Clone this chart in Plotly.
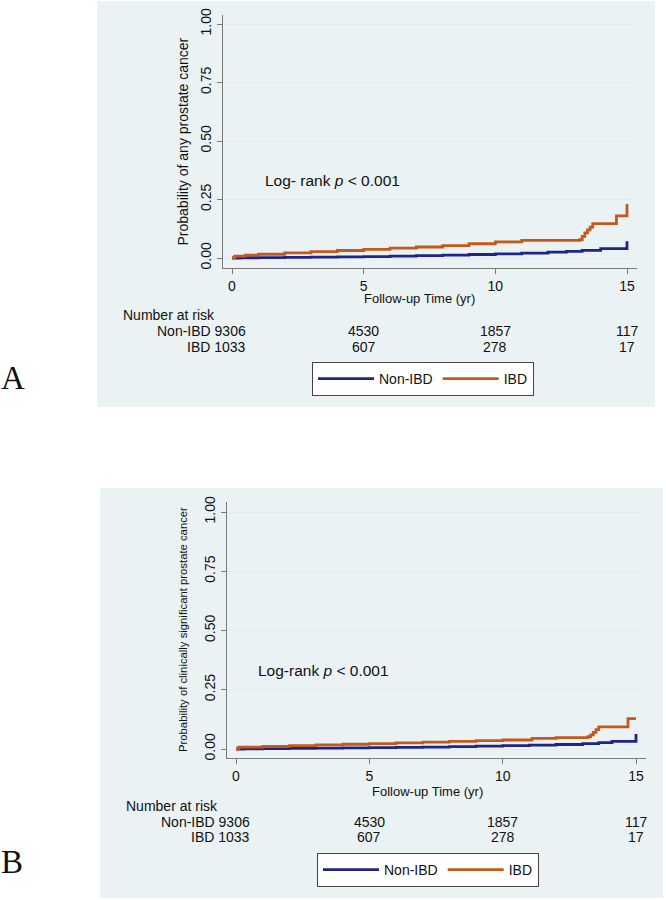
import plotly.graph_objects as go

# ---------------- data ----------------
# Panel A: any prostate cancer (cumulative probability)
a_non_t = [0, 0.3, 1, 2, 3, 4, 5, 6, 7, 8, 9, 10, 11, 12, 12.7, 13.3, 14.0, 15.0]
a_non_p = [0, 0.001, 0.002, 0.003, 0.004, 0.005, 0.006, 0.008, 0.010, 0.012, 0.015, 0.018,
           0.021, 0.025, 0.028, 0.033, 0.040, 0.072]
a_ibd_t = [0, 0.1, 0.5, 1, 2, 3, 4, 5, 6, 7, 8, 9, 10, 11, 13.2, 13.3, 13.4, 13.5, 13.6, 13.7, 14.6, 15.0]
a_ibd_p = [0, 0.008, 0.012, 0.016, 0.022, 0.027, 0.032, 0.037, 0.042, 0.047, 0.053, 0.061, 0.069,
           0.075, 0.078, 0.092, 0.107, 0.120, 0.132, 0.147, 0.180, 0.231]

# Panel B: clinically significant prostate cancer
b_non_t = [0, 0.3, 1, 2, 3, 4, 5, 6, 7, 8, 9, 10, 11, 12, 13, 13.6, 14.1, 15.0]
b_non_p = [0, 0.001, 0.002, 0.003, 0.004, 0.005, 0.006, 0.007, 0.008, 0.010, 0.012, 0.014,
           0.016, 0.019, 0.023, 0.027, 0.032, 0.063]
b_ibd_t = [0, 0.1, 1, 2, 3, 4, 5, 6, 7, 8, 9, 10, 11.1, 12, 13.2, 13.3, 13.4, 13.5, 13.6, 14.7, 15.0]
b_ibd_p = [0, 0.008, 0.011, 0.014, 0.017, 0.020, 0.023, 0.026, 0.029, 0.032, 0.035, 0.038, 0.045,
           0.048, 0.052, 0.060, 0.070, 0.082, 0.093, 0.128, 0.128]

risk_times = [0, 5, 10, 15]
risk_non_ibd = [9306, 4530, 1857, 117]
risk_ibd = [1033, 607, 278, 17]

x_ticks = [0, 5, 10, 15]
y_ticks = [0, 0.25, 0.5, 0.75, 1.0]
y_ticklabels = ["0.00", "0.25", "0.50", "0.75", "1.00"]

series_names = ["Non-IBD", "IBD"]
y_titles = ["Probability of any prostate cancer",
            "Probability of clinically significant prostate cancer"]
panel_letters = ["A", "B"]
logrank_texts = ["Log- rank <i>p</i> < 0.001", "Log-rank <i>p</i> < 0.001"]

# ---------------- styling ----------------
W, H = 666, 900
BLUE = "#1f2586"
ORANGE = "#c5591b"
BG = "#eaf2f4"
GRID = "#e2ebee"
AXC = "#7a7a7a"
FONT = "Liberation Sans, Arial, sans-serif"


def px_x(v):
    return v / W


def px_y(v):
    return 1 - v / H


fig = go.Figure()

fig.add_trace(go.Scatter(x=a_non_t, y=a_non_p, mode="lines", line=dict(color=BLUE, width=2.8, shape="hv"),
                         name=series_names[0], xaxis="x", yaxis="y", legend="legend"))
fig.add_trace(go.Scatter(x=a_ibd_t, y=a_ibd_p, mode="lines", line=dict(color=ORANGE, width=2.8, shape="hv"),
                         name=series_names[1], xaxis="x", yaxis="y", legend="legend"))
fig.add_trace(go.Scatter(x=b_non_t, y=b_non_p, mode="lines", line=dict(color=BLUE, width=2.8, shape="hv"),
                         name=series_names[0], xaxis="x2", yaxis="y2", legend="legend2"))
fig.add_trace(go.Scatter(x=b_ibd_t, y=b_ibd_p, mode="lines", line=dict(color=ORANGE, width=2.8, shape="hv"),
                         name=series_names[1], xaxis="x2", yaxis="y2", legend="legend2"))

panels = [
    dict(bg=(97, 1, 655, 407), plot=(223, 15, 637, 268), x0=232, x15=627, y0=258, y1=24,
         nar_title=(121, 315), rows=(331, 347), xt=(419, 298), yt=(182, 13.9), letter=(13, 378),
         logrank=(263, 180), legend=(312, 362), ytsize=14),
    dict(bg=(100, 488, 663, 898), plot=(227, 502, 646, 758), x0=236, x15=636, y0=749, y1=512,
         nar_title=(124, 806), rows=(822, 837), xt=(427, 791), yt=(183, 11.3), letter=(12, 862),
         logrank=(256, 670), legend=(317, 853), ytsize=11.3),
]

shapes = []
annotations = []
layout_axes = {}
for i, p in enumerate(panels):
    sfx = "" if i == 0 else "2"
    L, T, R, B = p["plot"]
    ux = (p["x15"] - p["x0"]) / 15.0
    uy = (p["y0"] - p["y1"])
    xr = [(L - p["x0"]) / ux, (R - p["x0"]) / ux]
    yr = [(p["y0"] - B) / uy, (p["y0"] - T) / uy]

    bx0, by0, bx1, by1 = p["bg"]
    shapes.append(dict(type="rect", xref="paper", yref="paper", x0=px_x(bx0), x1=px_x(bx1),
                       y0=px_y(by1), y1=px_y(by0), fillcolor=BG, line=dict(width=0), layer="below"))

    layout_axes["xaxis" + sfx] = dict(
        domain=[px_x(L), px_x(R)], range=xr, anchor="y" + sfx,
        tickvals=x_ticks, ticks="outside", ticklen=5, tickcolor=AXC, tickwidth=1,
        showline=True, linecolor=AXC, linewidth=1, showgrid=False, zeroline=False,
        tickfont=dict(family=FONT, size=14, color="#111"),
    )
    layout_axes["yaxis" + sfx] = dict(
        domain=[px_y(B), px_y(T)], range=yr, anchor="x" + sfx,
        tickvals=y_ticks, ticktext=y_ticklabels, tickangle=-90,
        ticks="outside", ticklen=5, tickcolor=AXC, tickwidth=1,
        showline=True, linecolor=AXC, linewidth=1, showgrid=True, gridcolor=GRID, gridwidth=1,
        zeroline=False, tickfont=dict(family=FONT, size=14, color="#111"),
    )

    annotations.append(dict(text="Follow-up Time (yr)", xref="paper", yref="paper",
                            x=px_x(p["xt"][0]), y=px_y(p["xt"][1]), xanchor="center", yanchor="middle",
                            showarrow=False, font=dict(family=FONT, size=13, color="#111")))
    annotations.append(dict(text=y_titles[i], xref="paper", yref="paper", textangle=-90,
                            x=px_x(p["yt"][0]), y=px_y((T + B) / 2), xanchor="center", yanchor="middle",
                            showarrow=False, font=dict(family=FONT, size=p["ytsize"], color="#111")))
    lx = (p["logrank"][0] - p["x0"]) / ux
    ly = (p["y0"] - p["logrank"][1]) / uy
    annotations.append(dict(text=logrank_texts[i], xref="x" + sfx, yref="y" + sfx, x=lx, y=ly,
                            xanchor="left", yanchor="middle", showarrow=False,
                            font=dict(family=FONT, size=15.5, color="#111")))
    annotations.append(dict(text="Number at risk", xref="paper", yref="paper",
                            x=px_x(p["nar_title"][0]), y=px_y(p["nar_title"][1]),
                            xanchor="left", yanchor="middle", showarrow=False,
                            font=dict(family=FONT, size=14, color="#111")))
    for row_y, lab, vals in [(p["rows"][0], series_names[0], risk_non_ibd),
                             (p["rows"][1], series_names[1], risk_ibd)]:
        for j, (t, n) in enumerate(zip(risk_times, vals)):
            if j == 0:
                annotations.append(dict(text=f"{lab} {n}", xref="x" + sfx, yref="paper",
                                        x=t, y=px_y(row_y), xanchor="right", xshift=15.5,
                                        yanchor="middle", showarrow=False,
                                        font=dict(family=FONT, size=14, color="#111")))
            else:
                annotations.append(dict(text=str(n), xref="x" + sfx, yref="paper",
                                        x=t, y=px_y(row_y), xanchor="center",
                                        yanchor="middle", showarrow=False,
                                        font=dict(family=FONT, size=14, color="#111")))
    annotations.append(dict(text=panel_letters[i], xref="paper", yref="paper",
                            x=px_x(p["letter"][0]), y=px_y(p["letter"][1]),
                            xanchor="center", yanchor="middle", showarrow=False,
                            font=dict(family="Liberation Serif, Times New Roman, serif", size=33, color="#111")))

legend_common = dict(orientation="h", xanchor="left", yanchor="top", bgcolor="white",
                     bordercolor="#444", borderwidth=1, font=dict(family=FONT, size=14, color="#111"),
                     itemwidth=56, itemclick=False, itemdoubleclick=False)

fig.update_layout(
    width=W, height=H, margin=dict(l=0, r=0, t=0, b=0, autoexpand=False),
    paper_bgcolor="white", plot_bgcolor="white",
    showlegend=True,
    legend=dict(x=px_x(panels[0]["legend"][0]), y=px_y(panels[0]["legend"][1]), **legend_common),
    legend2=dict(x=px_x(panels[1]["legend"][0]), y=px_y(panels[1]["legend"][1]), **legend_common),
    shapes=shapes, annotations=annotations,
    **layout_axes,
)

fig.write_html("out.html", config={"displayModeBar": False},
               post_script="document.body.style.margin='0px';")
